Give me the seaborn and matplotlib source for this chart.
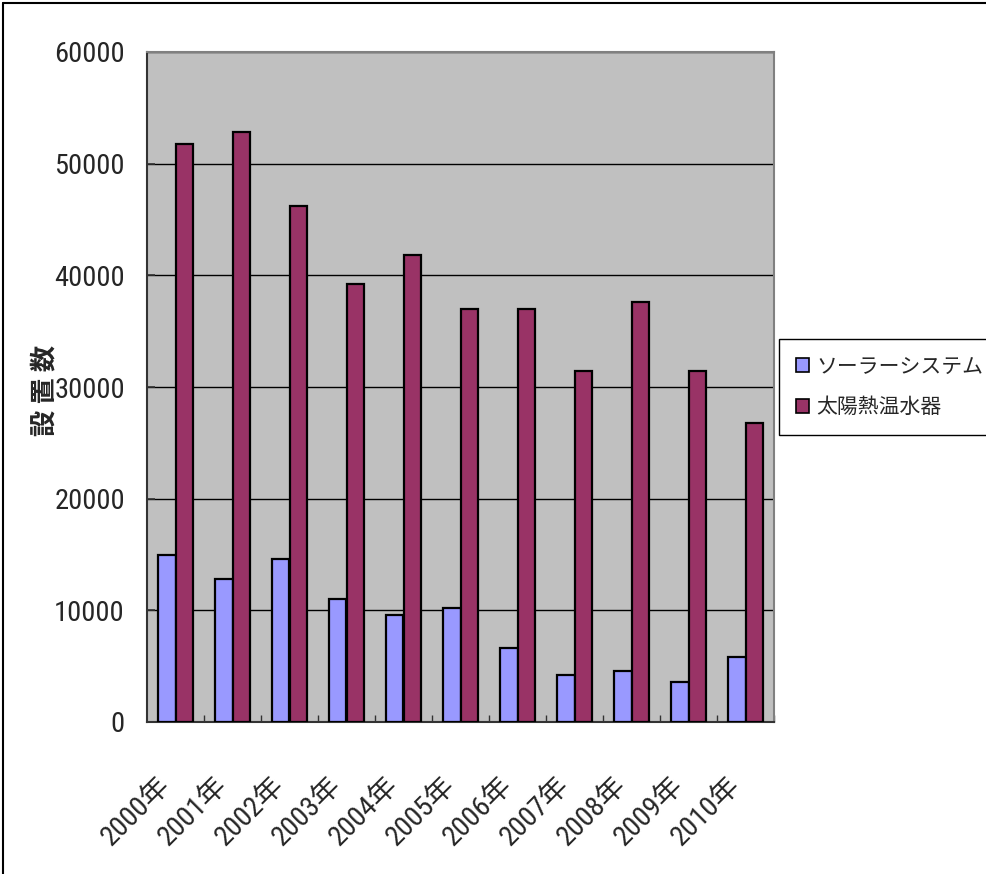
import matplotlib
matplotlib.use("Agg")
import matplotlib.pyplot as plt
from matplotlib.lines import Line2D
from matplotlib import font_manager
import seaborn as sns
import pandas as pd
import numpy as np

# Installations per year
years = ["2000年", "2001年", "2002年", "2003年", "2004年", "2005年",
         "2006年", "2007年", "2008年", "2009年", "2010年"]
solar_system = [15000, 12800, 14600, 11000, 9600, 10200, 6600, 4200, 4600, 3600, 5800]
solar_water_heater = [51800, 52800, 46200, 39200, 41800, 37000, 37000, 31400, 37600, 31400, 26800]
series_names = ["ソーラーシステム", "太陽熱温水器"]
series_colors = ["#9999FF", "#993366"]
y_ticks = [0, 10000, 20000, 30000, 40000, 50000, 60000]

df = pd.DataFrame({
    "year": years * 2,
    "count": solar_system + solar_water_heater,
    "kind": [series_names[0]] * len(years) + [series_names[1]] * len(years),
})

sns.set_theme(style="white")
cjk_font = ["Noto Sans CJK JP", "DejaVu Sans"]
plt.rcParams["font.family"] = cjk_font

# narrow face for the numerals, if one is available
names = {f.name for f in font_manager.fontManager.ttflist}
narrow = [n for n in ["Liberation Sans Narrow", "DejaVu Sans Condensed", "Roboto Condensed",
                      "Open Sans Condensed"] if n in names]
num_font = narrow[:1] + cjk_font

W, H = 986, 874
fig = plt.figure(figsize=(W / 100, H / 100), dpi=100)
fig.patch.set_facecolor("white")
ax = fig.add_axes([147 / W, 1 - 722 / H, 627 / W, 670 / H])
ax.set_facecolor("#C0C0C0")

sns.barplot(data=df, x="year", y="count", hue="kind", order=years,
            hue_order=series_names, palette=series_colors, width=0.6,
            edgecolor="black", linewidth=1.6, saturation=1, ax=ax,
            legend=False, zorder=3)

ax.set_ylim(0, 60000)
ax.set_xlim(-0.5, len(years) - 0.5)
ax.set_yticks(y_ticks)
ax.set_yticklabels([str(v) for v in y_ticks], fontfamily=num_font, fontsize=20.5)
ax.yaxis.grid(True, color="black", linewidth=1.0, zorder=0)
ax.set_axisbelow(True)

# category separators as small inward ticks on the x-axis
ax.set_xticks(np.arange(len(years)))
ax.set_xticks(np.arange(len(years)) + 0.5, minor=True)
ax.tick_params(axis="x", which="major", length=0, pad=36)
ax.tick_params(axis="x", which="minor", direction="in", length=5, width=1, color="#333333", bottom=True)
ax.tick_params(axis="y", direction="in", length=6, width=1.2, color="#333333", left=True, pad=16)
ax.set_xticklabels(years, rotation=45, ha="right", va="top",
                   fontfamily=num_font, fontsize=20.5)

ax.set_xlabel("")
ax.set_ylabel("設 置 数", fontsize=19, fontweight="bold", fontfamily=cjk_font)
ax.yaxis.set_label_coords(58 / W, 1 - 390 / H, transform=fig.transFigure)

for side in ["left", "bottom"]:
    ax.spines[side].set_color("#333333")
    ax.spines[side].set_linewidth(1.5)
for side in ["top", "right"]:
    ax.spines[side].set_color("#808080")
    ax.spines[side].set_linewidth(1.5)

handles = [plt.Rectangle((0, 0), 1, 1, facecolor=c, edgecolor="black", linewidth=1.2)
           for c in series_colors]
leg = fig.legend(handles, series_names, loc="upper left",
                 bbox_to_anchor=(779 / W, 1 - 339 / H), bbox_transform=fig.transFigure,
                 fontsize=15, frameon=True, fancybox=False, framealpha=1,
                 edgecolor="black", handlelength=0.66, handleheight=0.66,
                 handletextpad=0.35, borderpad=0.8, labelspacing=0.9,
                 borderaxespad=0)
leg.get_frame().set_linewidth(1.0)

# outer frame of the chart area
fig.add_artist(Line2D([3 / W, 3 / W], [0, 1 - 3 / H], transform=fig.transFigure, color="black", linewidth=1.5))
fig.add_artist(Line2D([3 / W, 1], [1 - 3 / H, 1 - 3 / H], transform=fig.transFigure, color="black", linewidth=1.5))

fig.savefig("out.png", dpi=100, facecolor="white")
